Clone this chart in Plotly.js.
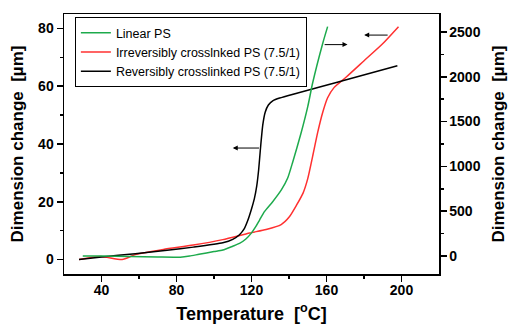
<!DOCTYPE html>
<html>
<head>
<meta charset="utf-8">
<script src="https://cdn.plot.ly/plotly-3.0.1.min.js"></script>
<style>html,body{margin:0;padding:0;background:#fff;}#chart{width:515px;height:324px;}</style>
</head>
<body>
<div id="chart"></div>
<script>
// Linear PS (right axis)
const greenT = [30, 40, 55, 70, 82, 87, 92, 100, 104.7, 110, 113.6, 117, 119.8, 122, 124.3, 126.9, 131.3, 136, 139.3, 142, 146.4, 150, 152.6, 157.9, 160.6];
const greenV = [0, 0, -5, -10, -12, 0, 20, 50, 67, 110, 141, 190, 253, 320, 402, 495, 606, 740, 870, 1050, 1369, 1666, 1930, 2366, 2559];
// Irreversibly crosslinked PS (left axis)
const redT = [28, 39.5, 51, 58, 73, 89, 104.7, 119, 127.8, 135.8, 140.2, 144, 147.5, 150, 152.6, 155.3, 158, 160.6, 164.1, 170.4, 181, 189.8, 198.4];
const redV = [0, 1.1, 0, 1.7, 3.5, 5.0, 6.9, 9.2, 10.4, 12.1, 14.8, 18.8, 23, 28, 35.7, 44, 51, 56, 59.6, 63.1, 69.4, 74.6, 80.6];
// Reversibly crosslinked PS (left axis)
const blackT = [28, 40, 58, 75, 89, 104.7, 110, 113.6, 116, 118, 120, 121.5, 122.8, 123.8, 124.8, 126, 127.3, 129, 131.5, 135, 168.6, 197.8];
const blackV = [0, 0.9, 2.0, 3.2, 4.3, 5.8, 7.0, 8.6, 10.5, 13.5, 17.5, 21, 25.5, 31, 38.6, 46.5, 51, 53.5, 55, 55.9, 61.9, 67.1];

const names = ['Linear PS', 'Irreversibly crosslnked PS (7.5/1)', 'Reversibly crosslinked PS (7.5/1)'];
const xTicks = [40, 80, 120, 160, 200];
const xMinor = [60, 100, 140, 180];
const yTicks = [0, 20, 40, 60, 80];
const yMinor = [10, 30, 50, 70];
const y2Ticks = [0, 500, 1000, 1500, 2000, 2500];
const y2Minor = [250, 750, 1250, 1750, 2250];

const FONT = 'Liberation Sans, Arial, sans-serif';
const tickFont = {family: FONT, size: 14, color: '#000', weight: 'bold'};
const titleFont = {family: FONT, size: 17, color: '#000', weight: 'bold'};

const traces = [
  {x: greenT, y: greenV, name: names[0], yaxis: 'y2', mode: 'lines',
   line: {color: '#1daa4c', width: 1.5, shape: 'spline', smoothing: 0.6}},
  {x: redT, y: redV, name: names[1], mode: 'lines',
   line: {color: '#ff3030', width: 1.5, shape: 'spline', smoothing: 0.6}},
  {x: blackT, y: blackV, name: names[2], mode: 'lines',
   line: {color: '#000', width: 1.5, shape: 'spline', smoothing: 0.5}}
];

const axisCommon = {
  showgrid: false, zeroline: false, showline: true, linecolor: '#000', linewidth: 1.5,
  ticks: 'outside', ticklen: 6, tickwidth: 1.5, tickcolor: '#000', tickfont: tickFont
};

const layout = {
  width: 515, height: 324,
  margin: {l: 64, r: 76, t: 14, b: 50},
  paper_bgcolor: '#fff', plot_bgcolor: '#fff',
  showlegend: true,
  legend: {x: 0.029, y: 0.988, xanchor: 'left', yanchor: 'top', bordercolor: '#000', borderwidth: 1,
           bgcolor: '#fff', font: {family: FONT, size: 12.5, color: '#000'}, tracegroupgap: 0},
  xaxis: Object.assign({}, axisCommon, {
    range: [20, 220], tickmode: 'array', tickvals: xTicks, mirror: true, ticklabelstandoff: -3,
    minor: {tickmode: 'array', tickvals: xMinor, ticks: 'outside', ticklen: 3, tickwidth: 1.5, tickcolor: '#000'},
    title: {text: 'Temperature  [<sup>o</sup>C]', font: {family: FONT, size: 18, color: '#000', weight: 'bold'}, standoff: 12}
  }),
  yaxis: Object.assign({}, axisCommon, {
    range: [-5, 85], tickmode: 'array', tickvals: yTicks,
    minor: {tickmode: 'array', tickvals: yMinor, ticks: 'outside', ticklen: 3, tickwidth: 1.5, tickcolor: '#000'},
    title: {text: 'Dimension change  [µm]', font: titleFont, standoff: 10}
  }),
  yaxis2: Object.assign({}, axisCommon, {
    overlaying: 'y', side: 'right',
    range: [-200, 2700], tickmode: 'array', tickvals: y2Ticks,
    minor: {tickmode: 'array', tickvals: y2Minor, ticks: 'outside', ticklen: 3, tickwidth: 1.5, tickcolor: '#000'},
    title: {text: 'Dimension change  [µm]', font: titleFont, standoff: 12}
  }),
  annotations: [
    {x: 110, y: 38.6, ax: 124.8, ay: 38.6, xref: 'x', yref: 'y', axref: 'x', ayref: 'y',
     showarrow: true, arrowhead: 2, arrowsize: 1, arrowwidth: 1, arrowcolor: '#000', text: ''},
    {x: 171.2, y: 74.4, ax: 158.2, ay: 74.4, xref: 'x', yref: 'y', axref: 'x', ayref: 'y',
     showarrow: true, arrowhead: 2, arrowsize: 1, arrowwidth: 1, arrowcolor: '#000', text: ''},
    {x: 180.1, y: 77.7, ax: 193.4, ay: 77.7, xref: 'x', yref: 'y', axref: 'x', ayref: 'y',
     showarrow: true, arrowhead: 2, arrowsize: 1, arrowwidth: 1, arrowcolor: '#000', text: ''}
  ]
};

Plotly.newPlot('chart', traces, layout, {displayModeBar: false, staticPlot: true});
</script>
</body>
</html>
